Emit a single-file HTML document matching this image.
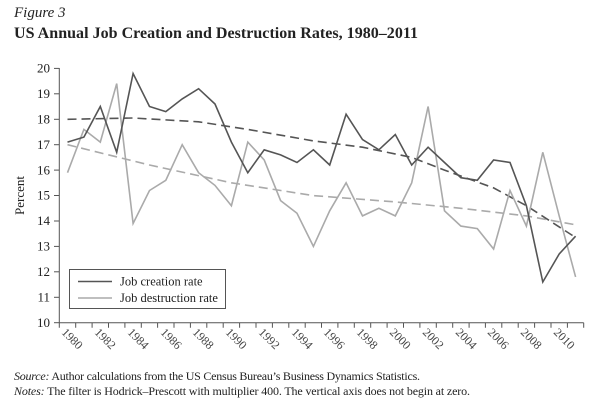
<!DOCTYPE html>
<html><head><meta charset="utf-8"><style>
body{margin:0;background:#fff;width:604px;height:412px;overflow:hidden;font-family:"Liberation Serif",serif;color:#222}
</style></head><body>
<svg width="604" height="412" xmlns="http://www.w3.org/2000/svg" font-family="Liberation Serif, serif">
<text x="14" y="17" font-size="15" font-style="italic" fill="#222">Figure 3</text>
<text x="14" y="38" font-size="16" font-weight="bold" fill="#222" textLength="404">US Annual Job Creation and Destruction Rates, 1980–2011</text>
<g stroke="#555" stroke-width="1" fill="none">
<line x1="59.3" y1="68" x2="59.3" y2="322.7"/>
<line x1="59.3" y1="322.7" x2="583.7" y2="322.7"/>
</g>
<g stroke="#555" stroke-width="1">
<line x1="54" x2="59.3" y1="322.7" y2="322.7"/><line x1="54" x2="59.3" y1="297.3" y2="297.3"/><line x1="54" x2="59.3" y1="271.8" y2="271.8"/><line x1="54" x2="59.3" y1="246.4" y2="246.4"/><line x1="54" x2="59.3" y1="221.0" y2="221.0"/><line x1="54" x2="59.3" y1="195.5" y2="195.5"/><line x1="54" x2="59.3" y1="170.1" y2="170.1"/><line x1="54" x2="59.3" y1="144.7" y2="144.7"/><line x1="54" x2="59.3" y1="119.3" y2="119.3"/><line x1="54" x2="59.3" y1="93.8" y2="93.8"/><line x1="54" x2="59.3" y1="68.4" y2="68.4"/>
</g>
<g font-size="13" text-anchor="end" fill="#222">
<text x="50" y="327">10</text><text x="50" y="301.5">11</text><text x="50" y="276">12</text><text x="50" y="250.6">13</text><text x="50" y="225.2">14</text><text x="50" y="199.7">15</text><text x="50" y="174.3">16</text><text x="50" y="148.9">17</text><text x="50" y="123.5">18</text><text x="50" y="98">19</text><text x="50" y="72.6">20</text>
</g>
<text transform="translate(24,195.5) rotate(-90)" font-size="13" text-anchor="middle" fill="#222">Percent</text>
<g stroke="#555">
<path d="M59.3 322.7v5M75.7 322.7v5M92.1 322.7v5M108.5 322.7v5M124.9 322.7v5M141.3 322.7v5M157.6 322.7v5M174 322.7v5M190.4 322.7v5M206.8 322.7v5M223.2 322.7v5M239.6 322.7v5M256 322.7v5M272.4 322.7v5M288.8 322.7v5M305.2 322.7v5M321.5 322.7v5M337.9 322.7v5M354.3 322.7v5M370.7 322.7v5M387.1 322.7v5M403.5 322.7v5M419.9 322.7v5M436.3 322.7v5M452.7 322.7v5M469.1 322.7v5M485.4 322.7v5M501.8 322.7v5M518.2 322.7v5M534.6 322.7v5M551 322.7v5M567.4 322.7v5M583.7 322.7v5"/>
</g>
<g font-size="12" fill="#444">
<text transform="translate(61,333) rotate(45)">1980</text>
<text transform="translate(94,333) rotate(45)">1982</text>
<text transform="translate(127,333) rotate(45)">1984</text>
<text transform="translate(160,333) rotate(45)">1986</text>
<text transform="translate(192,333) rotate(45)">1988</text>
<text transform="translate(225,333) rotate(45)">1990</text>
<text transform="translate(258,333) rotate(45)">1992</text>
<text transform="translate(291,333) rotate(45)">1994</text>
<text transform="translate(323,333) rotate(45)">1996</text>
<text transform="translate(356,333) rotate(45)">1998</text>
<text transform="translate(389,333) rotate(45)">2000</text>
<text transform="translate(422,333) rotate(45)">2002</text>
<text transform="translate(455,333) rotate(45)">2004</text>
<text transform="translate(487,333) rotate(45)">2006</text>
<text transform="translate(520,333) rotate(45)">2008</text>
<text transform="translate(553,333) rotate(45)">2010</text>
</g>
<polyline fill="none" stroke="#aaa" stroke-width="1.6" stroke-dasharray="9,5" points="67.5,144.7 149.5,165.0 231.4,182.8 313.4,195.6 395.3,201.9 460.9,208.3 526.4,215.9 575.6,224.8"/>
<polyline fill="none" stroke="#555" stroke-width="1.6" stroke-dasharray="9,5" points="67.5,119.3 133.1,118.0 198.6,121.8 247.8,129.4 313.4,140.9 362.5,147.2 411.7,157.4 444.5,170.1 493.6,187.9 526.4,205.7 575.6,237.5"/>
<polyline fill="none" stroke="#aaa" stroke-width="1.6" points="67.5,172.7 83.9,129.4 100.3,142.1 116.7,83.6 133.1,223.5 149.5,190.5 165.8,180.3 182.2,144.7 198.6,172.7 215.0,185.4 231.4,205.7 247.8,142.1 264.2,159.9 280.6,200.6 297.0,213.3 313.4,246.4 329.7,210.8 346.1,182.8 362.5,215.9 378.9,208.3 395.3,215.9 411.7,182.8 428.1,106.5 444.5,210.8 460.9,226.1 477.3,228.6 493.6,249.0 510.0,190.5 526.4,226.1 542.8,152.3 559.2,215.9 575.6,276.9"/>
<polyline fill="none" stroke="#555" stroke-width="1.6" points="67.5,142.1 83.9,137.1 100.3,106.5 116.7,152.3 133.1,73.5 149.5,106.5 165.8,111.6 182.2,98.9 198.6,88.7 215.0,104.0 231.4,142.1 247.8,172.7 264.2,149.8 280.6,154.9 297.0,162.5 313.4,149.8 329.7,165.0 346.1,114.2 362.5,139.6 378.9,149.8 395.3,134.5 411.7,165.0 428.1,147.2 444.5,162.5 460.9,177.7 477.3,180.3 493.6,160.0 510.0,162.5 526.4,205.7 542.8,282.0 559.2,254.0 575.6,236.2"/>
<rect x="69.5" y="269.5" width="156" height="39" fill="#fff" stroke="#555" stroke-width="1"/>
<line x1="78" x2="112" y1="281.5" y2="281.5" stroke="#555" stroke-width="1.6"/>
<line x1="78" x2="112" y1="298" y2="298" stroke="#aaa" stroke-width="1.6"/>
<text x="120" y="285.5" font-size="12.5" fill="#222">Job creation rate</text>
<text x="120" y="302" font-size="12.5" fill="#222">Job destruction rate</text>
<text x="14" y="380" font-size="12" fill="#222" textLength="406"><tspan font-style="italic">Source:</tspan> Author calculations from the US Census Bureau’s Business Dynamics Statistics.</text>
<text x="14" y="395" font-size="12" fill="#222" textLength="456"><tspan font-style="italic">Notes:</tspan> The filter is Hodrick–Prescott with multiplier 400. The vertical axis does not begin at zero.</text>
</svg>
</body></html>
